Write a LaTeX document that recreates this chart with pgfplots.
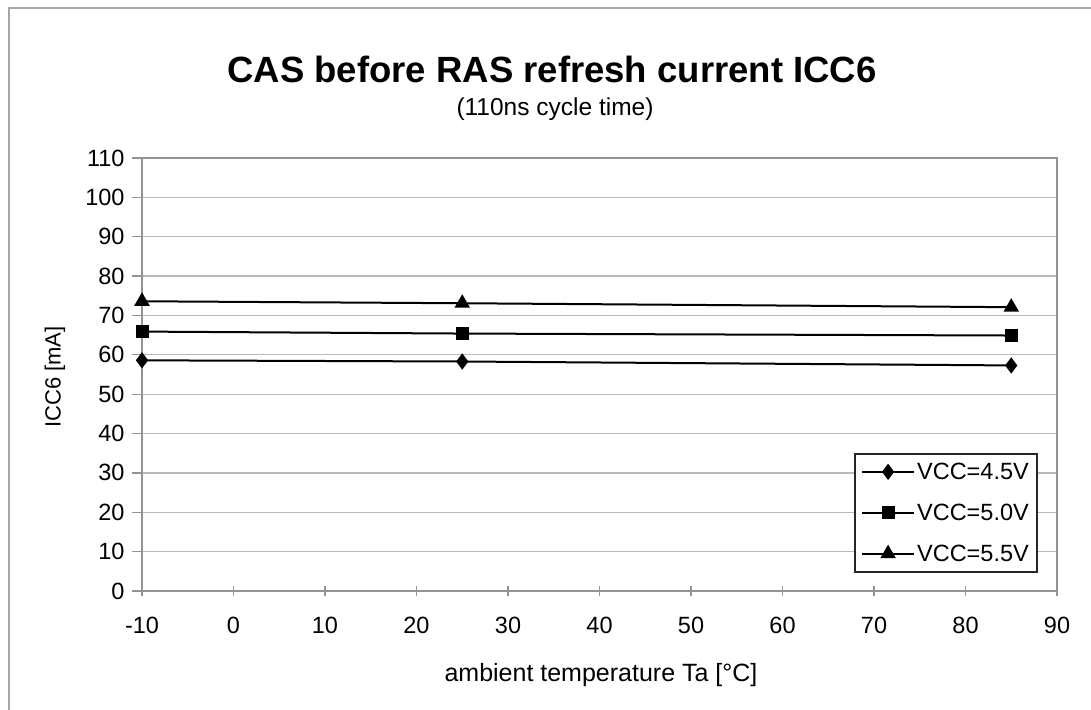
\documentclass[border=0pt]{standalone}
\usepackage{pgfplots}
\pgfplotsset{compat=1.18}
\usepackage{fontspec}
\setmainfont{Liberation Sans}
\begin{document}
\begin{tikzpicture}
\useasboundingbox (0,0) rectangle (1091pt,709pt);
\draw[gray!70, line width=2.5pt] (9pt,-5pt) -- (9pt,701pt) -- (1096pt,701pt);
\begin{axis}[
  at={(142pt,118pt)}, anchor=south west,
  width=915pt, height=433pt, scale only axis,
  xmin=-10, xmax=90, ymin=0, ymax=110,
  xtick={-10,0,...,90}, ytick={0,10,...,110},
  xtick pos=bottom, ytick pos=left,
  ymajorgrids, grid style={gray!55, line width=1.3pt},
  axis line style={gray!85, line width=1.3pt},
  tick style={gray!85, line width=1.3pt},
  major tick length=10pt,
  ytick align=outside, xtick align=center,
  tick label style={font=\fontsize{23.5}{23.5}\selectfont, black},
  /pgf/number format/assume math mode=true,
  xticklabel style={yshift=-18pt},
  yticklabel style={xshift=-4pt},
  legend style={at={(0.979,0.319)}, anchor=north east, draw=black!85, line width=2pt,
    font=\fontsize{23.5}{23.5}\selectfont, inner xsep=6pt, inner ysep=7pt,
    row sep=19pt, cells={anchor=west}},
  legend image code/.code={\draw[mark repeat=2,mark phase=2,#1] plot coordinates {(0pt,0pt) (26pt,0pt) (52pt,0pt)};},
]
\addplot[black, line width=2pt, mark=diamond*, mark size=6.5pt] coordinates {(-10,58.6) (25,58.3) (85,57.3)};
\addlegendentry{VCC=4.5V}
\addplot[black, line width=2pt, mark=square*, mark size=5.5pt] coordinates {(-10,65.9) (25,65.4) (85,64.9)};
\addlegendentry{VCC=5.0V}
\addplot[black, line width=2pt, mark=triangle*, mark size=7pt] coordinates {(-10,73.6) (25,73.1) (85,72.1)};
\addlegendentry{VCC=5.5V}
\end{axis}
\node[font=\bfseries\fontsize{36.5}{36.5}\selectfont] at (552pt,640pt) {CAS before RAS refresh current ICC6};
\node[font=\fontsize{24.5}{24.5}\selectfont] at (555pt,600pt) {(110ns cycle time)};
\node[font=\fontsize{25}{25}\selectfont] at (601pt,34pt) {ambient temperature Ta [°C]};
\node[font=\fontsize{22}{22}\selectfont, rotate=90] at (55pt,332pt) {ICC6 [mA]};
\end{tikzpicture}
\end{document}
